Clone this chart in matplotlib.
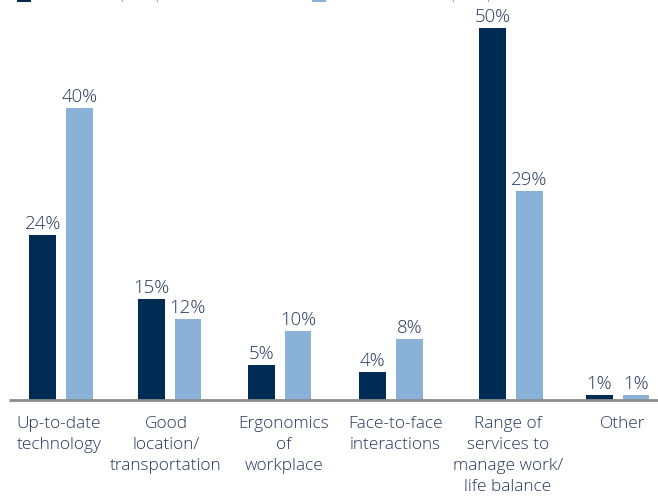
import matplotlib
matplotlib.use('Agg')
import matplotlib.pyplot as plt
from matplotlib.patches import Rectangle

# Daten
categories = ["Up-to-date\ntechnology", "Good\nlocation/\ntransportation",
              "Ergonomics\nof\nworkplace", "Face-to-face\ninteractions",
              "Range of\nservices to\nmanage work/\nlife balance", "Other"]
series_names = ["CRE perspective", "Business unit perspective"]
# Balkenhoehe (in %)
dark_values = [22.2, 13.6, 4.7, 3.8, 50.0, 0.7]
light_values = [39.2, 10.9, 9.3, 8.2, 28.1, 0.7]
# Beschriftungen wie im Bild
dark_labels = ["24%", "15%", "5%", "4%", "50%", "1%"]
light_labels = ["40%", "12%", "10%", "8%", "29%", "1%"]

DARK = '#002b54'
LIGHT = '#8ab2d9'
TEXT = '#24395a'
FONT = ['Open Sans', 'DejaVu Sans']

# Layout (Pixel)
W, H = 658, 496
group_x = [61, 169.5, 279.5, 391, 511, 617.5]
label_x = [59, 166, 284, 395.5, 508, 622.5]
bar_w = 26.7
offset = 18.35


def main():
    fig = plt.figure(figsize=(W / 100, H / 100), dpi=100)
    ax = fig.add_axes([0, 96 / H, 1, 400 / H])
    ax.set_xlim(0, W)
    ax.set_ylim(0, 400 / 7.44)
    ax.axis('off')

    xd = [x - offset for x in group_x]
    xl = [x + offset for x in group_x]
    bd = ax.bar(xd, dark_values, width=bar_w, color=DARK, zorder=2)
    bl = ax.bar(xl, light_values, width=bar_w, color=LIGHT, zorder=2)

    for bars, labels in ((bd, dark_labels), (bl, light_labels)):
        for b, lab in zip(bars, labels):
            ax.annotate(lab, (b.get_x() + b.get_width() / 2, b.get_height()),
                        xytext=(0, 6), textcoords='offset pixels',
                        ha='center', va='baseline', fontsize=13.4,
                        fontweight='light', color=TEXT, family=FONT)

    # Grundlinie
    ax.plot([9, W], [0, 0], color='#8c8c8c', lw=2, solid_capstyle='butt',
            clip_on=False, zorder=3)

    for x, cat in zip(label_x, categories):
        ax.annotate(cat, (x, 0), xytext=(0, -16), textcoords='offset pixels',
                    ha='center', va='top', fontsize=12.4, fontweight='light',
                    color=TEXT, family=FONT, linespacing=1.42)

    # Legende (oben abgeschnitten)
    for px, col, tx, name in ((16.7, DARK, 85, series_names[0]),
                              (312, LIGHT, 342, series_names[1])):
        fig.patches.append(Rectangle((px / W, 1 - 1.5 / H), 14 / W, 14 / H,
                                     transform=fig.transFigure,
                                     facecolor=col, edgecolor='none'))
        fig.text(tx / W, 1 + 2 / H, name, ha='left', va='baseline',
                 fontsize=12.6, fontweight='light', color='#8a8a8a',
                 family=FONT)

    fig.savefig('out.png', dpi=100)
    plt.close(fig)


main()
